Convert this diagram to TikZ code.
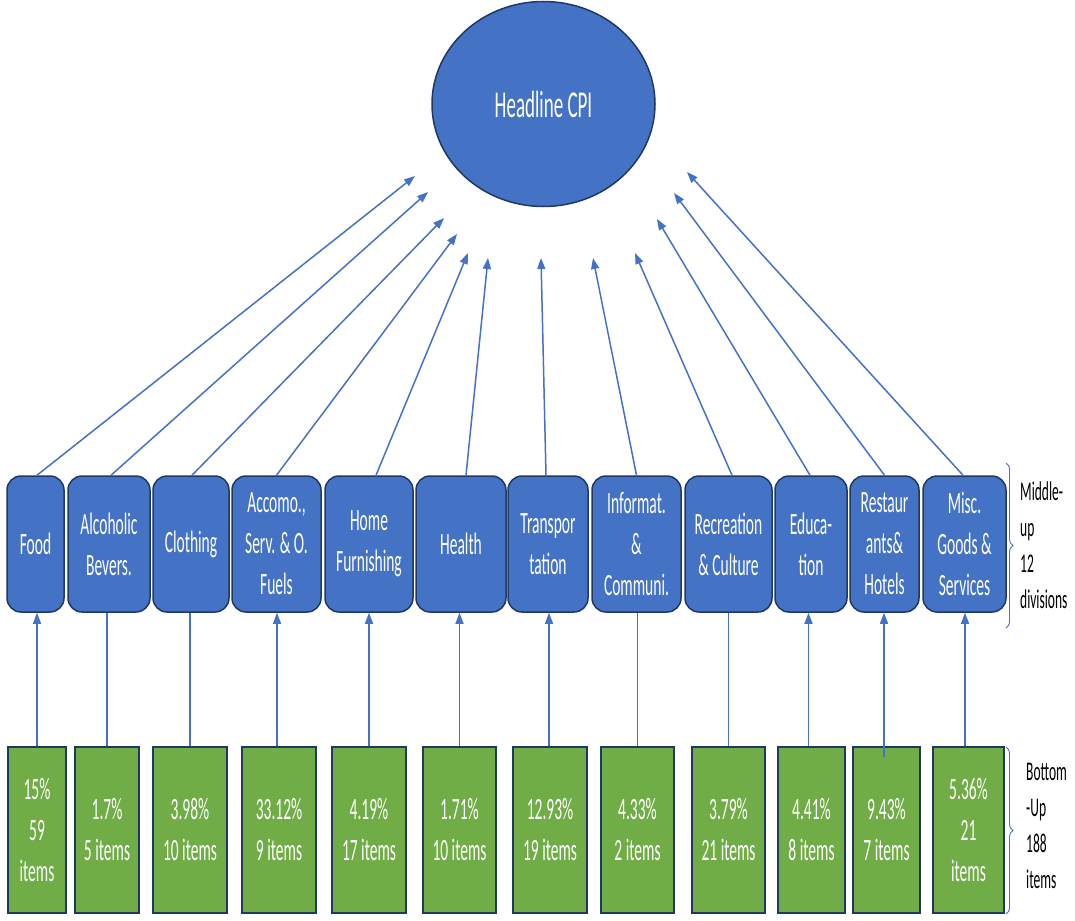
\documentclass[tikz,border=0pt]{standalone}
\usepackage{fontspec}
\setmainfont{Carlito}
\newfontfamily\narrowfont[FakeStretch=0.5]{Carlito}
\usetikzlibrary{arrows.meta,decorations.pathreplacing,shapes.geometric}
\definecolor{ofblue}{HTML}{4472C4}
\definecolor{ofgreen}{HTML}{70AD47}
\definecolor{navy}{HTML}{1F3864}

\begin{document}
\begin{tikzpicture}[x=1pt,y=-1pt,
  divbox/.style={draw=navy, line width=1.5pt, fill=ofblue, rounded corners=14pt,
    text=white, align=center, inner sep=0pt, minimum height=136pt,
    font=\narrowfont\fontsize{31}{41}\selectfont},
  itembox/.style={draw=navy, line width=1.8pt, fill=ofgreen,
    text=white, align=center, inner sep=0pt, minimum height=166pt,
    font=\narrowfont\fontsize{31}{41}\selectfont},
  topnode/.style={draw=navy, line width=1.5pt, fill=ofblue, ellipse,
    text=white, inner sep=0pt, font=\narrowfont\fontsize{38}{46}\selectfont},
  link/.style={draw=ofblue, line width=1.5pt, -{Triangle[length=11pt,width=8pt]}},
  plainlink/.style={draw=ofblue, line width=1.5pt},
  sidelabel/.style={align=left, anchor=west, inner sep=0pt,
    font=\narrowfont\fontsize{27}{36}\selectfont},
  bracket/.style={draw=ofblue, line width=0.9pt, decorate,
    decoration={brace, amplitude=7pt}}]

\useasboundingbox (0,0) rectangle (1075,920);

% aggregate index
\node[topnode, minimum width=223pt, minimum height=205pt] (cpi) at (543.5,104) {Headline CPI};

% twelve divisions
\node[divbox, minimum width=57pt] (b1)  at (35.5,544)  {Food};
\node[divbox, minimum width=82pt] (b2)  at (109,544)   {Alcoholic\\Bevers.};
\node[divbox, minimum width=76pt] (b3)  at (191,544)   {Clothing};
\node[divbox, minimum width=89pt] (b4)  at (276.5,544) {Accomo.,\\Serv. \& O.\\Fuels};
\node[divbox, minimum width=88pt] (b5)  at (369,544)   {Home\\Furnishing};
\node[divbox, minimum width=90pt] (b6)  at (461,544)   {Health};
\node[divbox, minimum width=80pt] (b7)  at (548,544)   {Transpor\\tation};
\node[divbox, minimum width=89pt] (b8)  at (636.5,544) {Informat.\\\&\\Communi.};
\node[divbox, minimum width=87pt] (b9)  at (728.5,544) {Recreation\\\& Culture};
\node[divbox, minimum width=72pt] (b10) at (811,544)   {Educa-\\tion};
\node[divbox, minimum width=69pt] (b11) at (884.5,544) {Restaur\\ants\&\\Hotels};
\node[divbox, minimum width=83pt] (b12) at (964.5,544) {Misc.\\Goods \&\\Services};

% weights and item counts
\node[itembox, minimum width=58pt] (g1)  at (37,830)    {15\%\\59\\items};
\node[itembox, minimum width=64pt] (g2)  at (107,830)   {1.7\%\\5 items};
\node[itembox, minimum width=74pt] (g3)  at (190,830)   {3.98\%\\10 items};
\node[itembox, minimum width=74pt] (g4)  at (279,830)   {33.12\%\\9 items};
\node[itembox, minimum width=74pt] (g5)  at (369,830)   {4.19\%\\17 items};
\node[itembox, minimum width=73pt] (g6)  at (459.5,830) {1.71\%\\10 items};
\node[itembox, minimum width=74pt] (g7)  at (550,830)   {12.93\%\\19 items};
\node[itembox, minimum width=73pt] (g8)  at (637.5,830) {4.33\%\\2 items};
\node[itembox, minimum width=73pt] (g9)  at (728.5,830) {3.79\%\\21 items};
\node[itembox, minimum width=67pt] (g10) at (811.5,830) {4.41\%\\8 items};
\node[itembox, minimum width=67pt] (g11) at (886.5,830) {9.43\%\\7 items};
\node[itembox, minimum width=71pt] (g12) at (968.5,830) {5.36\%\\21\\items};

% arrow tips around the ellipse
\coordinate (t1)  at (415,176);
\coordinate (t2)  at (428,192);
\coordinate (t3)  at (444,218);
\coordinate (t4)  at (457,234);
\coordinate (t5)  at (468,253);
\coordinate (t6)  at (488,258);
\coordinate (t7)  at (541,258);
\coordinate (t8)  at (593,258);
\coordinate (t9)  at (635,253);
\coordinate (t10) at (657,219);
\coordinate (t11) at (674,193);
\coordinate (t12) at (687,172);

% divisions feed the headline index
\draw[link] ([xshift=1.5pt]b1.north) -- (t1);
\draw[link] ([xshift=2pt]b2.north) -- (t2);
\draw[link] ([xshift=1pt]b3.north) -- (t3);
\draw[link] (b4.north) -- (t4);
\draw[link] ([xshift=7pt]b5.north) -- (t5);
\draw[link] ([xshift=5pt]b6.north) -- (t6);
\draw[link] ([xshift=-2pt]b7.north) -- (t7);
\draw[link] (b8.north) -- (t8);
\draw[link] ([xshift=3.5pt]b9.north) -- (t9);
\draw[link] ([xshift=-1pt]b10.north) -- (t10);
\draw[link] (b11.north) -- (t11);
\draw[link] ([xshift=-1.5pt]b12.north) -- (t12);

% items feed the divisions
\draw[link] (g1.north) -- (g1.north |- b1.south);
\draw[plainlink] (g2.north) -- (g2.north |- b2.south);
\draw[plainlink] (g3.north) -- (g3.north |- b3.south);
\draw[link] ([xshift=-2pt]g4.north) -- ([xshift=-2pt]g4.north |- b4.south);
\draw[link] (g5.north) -- (g5.north |- b5.south);
\draw[link] (g6.north) -- (g6.north |- b6.south);
\draw[link] ([xshift=-1pt]g7.north) -- ([xshift=-1pt]g7.north |- b7.south);
\draw[plainlink] (g8.north) -- (g8.north |- b8.south);
\draw[plainlink] (g9.north) -- (g9.north |- b9.south);
\draw[link] ([xshift=-3pt]g10.north) -- ([xshift=-3pt]g10.north |- b10.south);
\draw[link] ([xshift=-2.5pt,yshift=-11pt]g11.north) -- ([xshift=-2.5pt]g11.north |- b11.south);
\draw[link] ([xshift=-3.5pt]g12.north) -- ([xshift=-3.5pt]g12.north |- b12.south);

% level brackets and their labels
\draw[bracket] (1006,463) -- (1006,628);
\draw[bracket] (1006,747) -- (1006,914);
\node[sidelabel] (midlabel) at (1020,545) {Middle-\\up\\12\\divisions};
\node[sidelabel] (botlabel) at (1026,826) {Bottom\\-Up\\188\\items};
\end{tikzpicture}
\end{document}
